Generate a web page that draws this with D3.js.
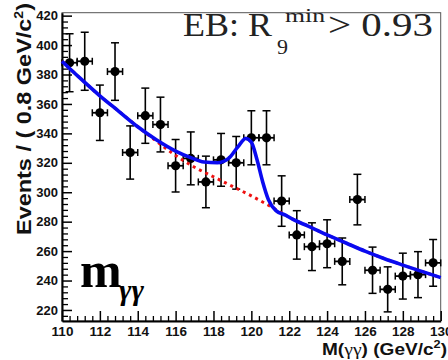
<!DOCTYPE html>
<html>
<head>
<meta charset="utf-8">
<script src="https://cdn.jsdelivr.net/npm/d3@7"></script>
<style>
  body { margin: 0; background: #fff; }
  svg { display: block; }
</style>
</head>
<body>
<svg id="chart" width="448" height="360"></svg>
<script>
// Diphoton invariant mass, 0.8 GeV bins
const binCenters = [110.4, 111.2, 112.0, 112.8, 113.6, 114.4, 115.2, 116.0, 116.8, 117.6,
                    118.4, 119.2, 120.0, 120.8, 121.6, 122.4, 123.2, 124.0, 124.8, 125.6,
                    126.4, 127.2, 128.0, 128.8, 129.6];
const events = [388, 389, 354, 382, 327, 352, 346, 318, 323, 307,
                322, 320, 337, 337, 294, 271, 263, 265, 253, 295,
                247, 234, 243, 244, 252];

// Signal + background fit, sampled along the mass axis
const fitMass  = [110, 111, 112, 113, 114, 115, 116, 116.8, 117.5, 118.2, 118.8, 119.3,
                  119.7, 120.0, 120.3, 120.6, 120.9, 121.3, 121.8, 122.2, 123, 124,
                  125, 126, 127, 128, 129, 130];
const fitTotal = [389, 377, 365.5, 355, 344.5, 335.5, 328, 323.5, 320.5, 320, 323, 331,
                  336.5, 334, 322, 307, 295, 287.5, 284.5, 281.5, 277, 271,
                  265.5, 260, 255, 250.5, 246.2, 242];

// Background-only component
const bkgMass = [110, 111, 112, 113, 114, 115, 116, 117, 118, 119, 120, 121, 122, 123,
                 124, 125, 126, 127, 128, 129, 130];
const bkgOnly = [389, 377, 365.5, 355, 344.5, 334.5, 325, 317, 310.5, 304, 297.5, 290.5,
                 283, 277, 271, 265.5, 260, 255, 250.5, 246.2, 242];

const xMajorTicks = [110, 112, 114, 116, 118, 120, 122, 124, 126, 128, 130];
const yMajorTicks = [220, 240, 260, 280, 300, 320, 340, 360, 380, 400, 420];

const svg = d3.select("#chart");
const L = 62, R = 440.7, T = 12.7, B = 321;

const x = d3.scaleLinear().domain([110, 130]).range([L, R]);
const y = d3.scaleLinear().domain([212.5, 422]).range([B, T]);

const labelFont = "'Liberation Sans', Arial, sans-serif";

// frame
svg.append("rect")
  .attr("x", L).attr("y", T).attr("width", R - L).attr("height", B - T)
  .attr("fill", "none").attr("stroke", "#555").attr("stroke-width", 1);

// minor ticks
const xMinor = d3.range(110, 130.001, 0.4).filter(v => Math.abs(v / 2 - Math.round(v / 2)) > 1e-6);
const yMinor = d3.range(216, 422, 4).filter(v => v % 20 !== 0);

svg.append("g").attr("transform", `translate(0,${B})`)
  .call(d3.axisBottom(x).tickValues(xMinor).tickSize(-5).tickSizeOuter(0).tickFormat(""))
  .call(g => g.select(".domain").remove())
  .selectAll("line").attr("stroke", "#000").attr("stroke-width", 1.3);

svg.append("g").attr("transform", `translate(${L},0)`)
  .call(d3.axisLeft(y).tickValues(yMinor).tickSize(-6).tickSizeOuter(0).tickFormat(""))
  .call(g => g.select(".domain").remove())
  .selectAll("line").attr("stroke", "#000").attr("stroke-width", 1.3);

// major ticks and labels
const xAxis = svg.append("g").attr("transform", `translate(0,${B})`)
  .call(d3.axisBottom(x).tickValues(xMajorTicks).tickSize(-10).tickSizeOuter(0).tickPadding(5)
        .tickFormat(d3.format("d")));
xAxis.select(".domain").attr("stroke", "#000").attr("stroke-width", 2);
xAxis.selectAll("line").attr("stroke", "#000").attr("stroke-width", 1.5);
xAxis.selectAll("text").attr("font-family", labelFont).attr("font-weight", "bold")
  .attr("font-size", 13.5).attr("fill", "#111");

const yAxis = svg.append("g").attr("transform", `translate(${L},0)`)
  .call(d3.axisLeft(y).tickValues(yMajorTicks).tickSize(-10).tickSizeOuter(0).tickPadding(4)
        .tickFormat(d3.format("d")));
yAxis.select(".domain").attr("stroke", "#000").attr("stroke-width", 2);
yAxis.selectAll("line").attr("stroke", "#000").attr("stroke-width", 1.5);
yAxis.selectAll("text").attr("font-family", labelFont).attr("font-weight", "bold")
  .attr("font-size", 13).attr("fill", "#111");

// axis titles
const yTitle = svg.append("text")
  .attr("transform", "translate(31,3) rotate(-90)")
  .attr("text-anchor", "end")
  .attr("font-family", labelFont).attr("font-weight", "bold").attr("font-size", 20)
  .attr("textLength", 232).attr("lengthAdjust", "spacingAndGlyphs")
  .attr("fill", "#111");
yTitle.append("tspan").text("Events / ( 0.8 GeV/c");
yTitle.append("tspan").attr("font-size", 12).attr("dy", -8).text("2");
yTitle.append("tspan").attr("dy", 8).text(")");

const xTitle = svg.append("text")
  .attr("x", 447).attr("y", 355)
  .attr("text-anchor", "end")
  .attr("font-family", labelFont).attr("font-weight", "bold").attr("font-size", 16.5)
  .attr("textLength", 125).attr("lengthAdjust", "spacingAndGlyphs")
  .attr("fill", "#111");
xTitle.append("tspan").text("M(");
xTitle.append("tspan").attr("font-family", "'Liberation Serif', serif").attr("font-weight", "normal")
  .attr("font-size", 17).text("γγ");
xTitle.append("tspan").text(") (GeV/c");
xTitle.append("tspan").attr("font-size", 11).attr("dy", -7).text("2");
xTitle.append("tspan").attr("dy", 7).text(")");

// data points with error bars
const pts = binCenters.map((c, i) => ({ c, n: events[i] }));
const eb = svg.append("g").attr("stroke", "#000");
pts.forEach(p => {
  const e = Math.sqrt(p.n);
  const cx = x(p.c), cy = y(p.n);
  const y0 = y(p.n - e), y1 = y(p.n + e);
  const xl = x(p.c - 0.4), xr = x(p.c + 0.4);
  eb.append("line").attr("x1", cx).attr("x2", cx).attr("y1", y0).attr("y2", y1).attr("stroke-width", 1.6);
  eb.append("line").attr("x1", cx - 4).attr("x2", cx + 4).attr("y1", y0).attr("y2", y0).attr("stroke-width", 1.5);
  eb.append("line").attr("x1", cx - 4).attr("x2", cx + 4).attr("y1", y1).attr("y2", y1).attr("stroke-width", 1.5);
  eb.append("line").attr("x1", xl).attr("x2", xr).attr("y1", cy).attr("y2", cy).attr("stroke-width", 1.8);
  eb.append("line").attr("x1", xl).attr("x2", xl).attr("y1", cy - 3.5).attr("y2", cy + 3.5).attr("stroke-width", 1.5);
  eb.append("line").attr("x1", xr).attr("x2", xr).attr("y1", cy - 3.5).attr("y2", cy + 3.5).attr("stroke-width", 1.5);
});
svg.append("g").selectAll("circle").data(pts).join("circle")
  .attr("cx", d => x(d.c)).attr("cy", d => y(d.n)).attr("r", 4.6).attr("fill", "#000");

// fit curves
const line = d3.line().x(d => x(d[0])).y(d => y(d[1])).curve(d3.curveMonotoneX);
svg.append("path")
  .datum(bkgMass.map((m, i) => [m, bkgOnly[i]]))
  .attr("d", line).attr("fill", "none")
  .attr("stroke", "#ee1111").attr("stroke-width", 3).attr("stroke-dasharray", "3,4");
svg.append("path")
  .datum(fitMass.map((m, i) => [m, fitTotal[i]]))
  .attr("d", line).attr("fill", "none")
  .attr("stroke", "#0a0af0").attr("stroke-width", 3.6);

// category label
const serif = "'Liberation Serif', 'Times New Roman', serif";
const cat = svg.append("g").attr("font-family", serif).attr("fill", "#222");
cat.append("text").attr("x", 183).attr("y", 36).attr("font-size", 34)
  .attr("textLength", 89).attr("lengthAdjust", "spacingAndGlyphs").text("EB: R");
cat.append("text").attr("x", 277).attr("y", 54).attr("font-size", 22).text("9");
cat.append("text").attr("x", 285).attr("y", 22).attr("font-size", 19)
  .attr("textLength", 40).attr("lengthAdjust", "spacingAndGlyphs").text("min");
cat.append("text").attr("x", 328).attr("y", 36).attr("font-size", 34)
  .attr("textLength", 105).attr("lengthAdjust", "spacingAndGlyphs").text("> 0.93");

// observable label
const obs = svg.append("g").attr("font-family", serif).attr("font-weight", "bold").attr("fill", "#000");
obs.append("text").attr("x", 80).attr("y", 287).attr("font-size", 50).text("m");
obs.append("text").attr("x", 119).attr("y", 300).attr("font-size", 30).attr("font-style", "italic").text("γγ");
</script>
</body>
</html>
